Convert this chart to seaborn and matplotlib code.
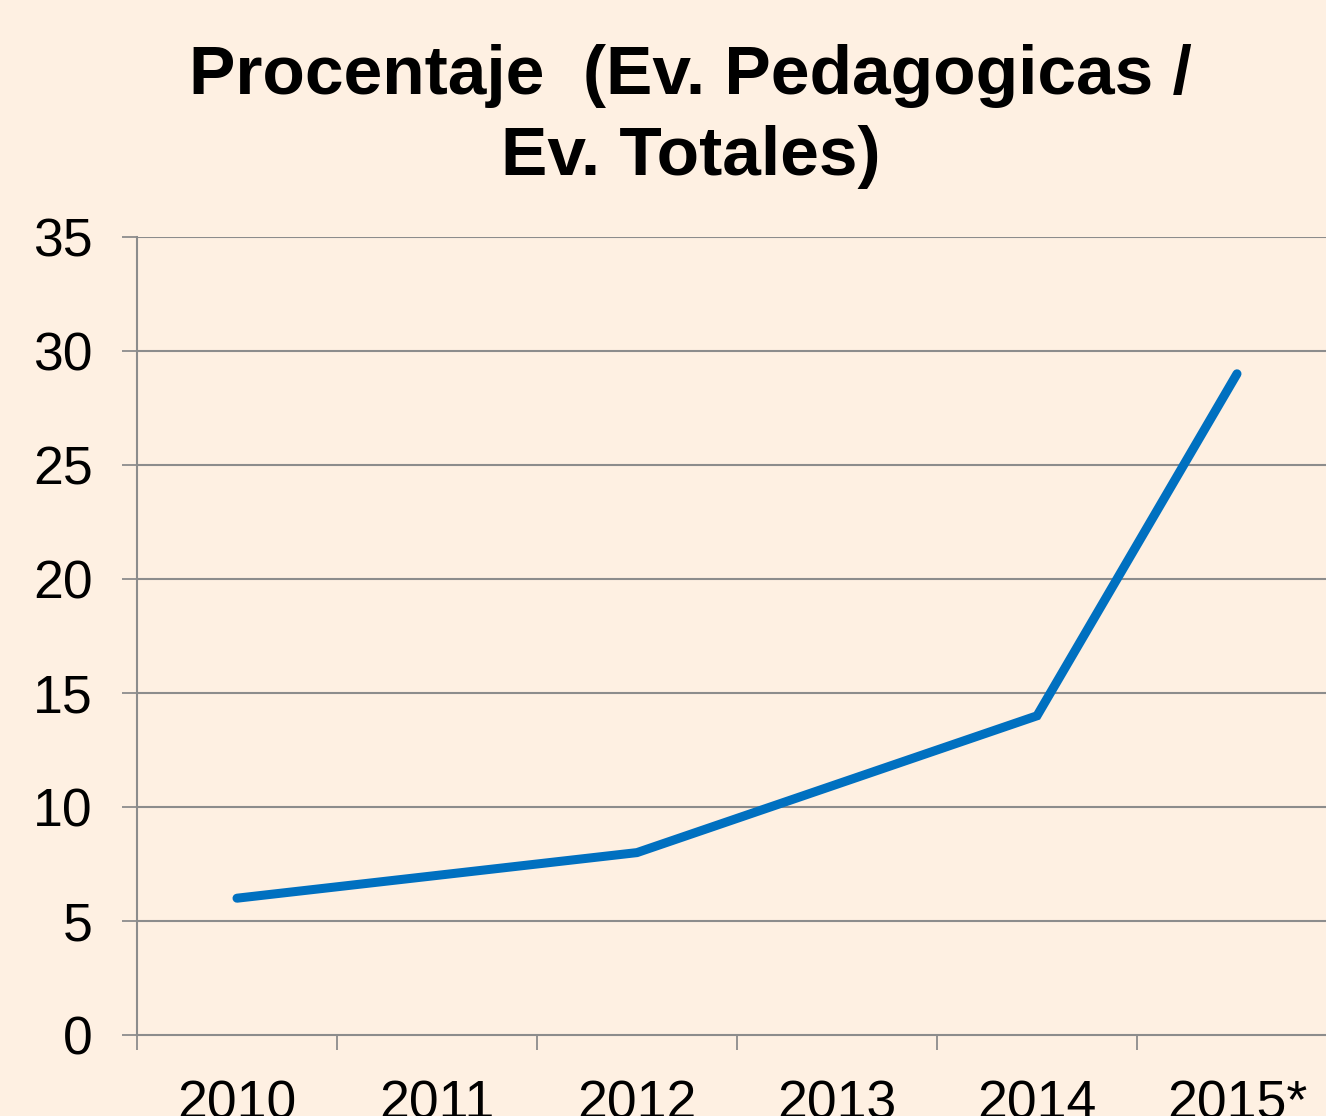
import matplotlib
matplotlib.use("Agg")
import matplotlib.pyplot as plt
import seaborn as sns
import pandas as pd
import numpy as np

# data
years = ['2010', '2011', '2012', '2013', '2014', '2015*']
porcentaje = [6, 7, 8, 11, 14, 29]
y_ticks = [0, 5, 10, 15, 20, 25, 30, 35]

bg = '#FEF0E2'
grid_c = '#8C8C8C'

sns.set_theme(style='white')
plt.rcParams['font.family'] = ['Liberation Sans', 'DejaVu Sans']

df = pd.DataFrame({'year': years, 'pct': porcentaje})

fig = plt.figure(figsize=(13.26, 11.16), dpi=100, facecolor=bg)
ax = fig.add_axes([137 / 1326, 81 / 1116, 1200 / 1326, 798 / 1116])
ax.set_facecolor(bg)

sns.lineplot(data=df, x='year', y='pct', sort=False, color='#0070C0',
             linewidth=6.5, solid_capstyle='round', solid_joinstyle='miter', ax=ax, zorder=3)

ax.set_xlim(-0.5, 5.5)
ax.set_ylim(0, 35)
ax.set_yticks(y_ticks)
ax.set_xticks(range(len(years)))
ax.set_xticklabels(years)
ax.set_xticks(np.arange(-0.5, len(years), 1.0), minor=True)

# horizontal gridlines
for v in y_ticks[1:]:
    ax.axhline(v, color=grid_c, linewidth=1.5, zorder=1)

for s in ['top', 'right']:
    ax.spines[s].set_visible(False)
for s in ['left', 'bottom']:
    ax.spines[s].set_color(grid_c)
    ax.spines[s].set_linewidth(1.5)

ax.tick_params(axis='y', which='major', direction='out', length=10.8, width=1.3,
               color=grid_c, labelsize=38.5, pad=21, left=True)
ax.tick_params(axis='x', which='major', length=0, labelsize=38.5, pad=32)
ax.tick_params(axis='x', which='minor', direction='out', length=10.8, width=1.3,
               color=grid_c, bottom=True)
for lab in ax.get_xticklabels() + ax.get_yticklabels():
    lab.set_color('black')

ax.set_xlabel('')
ax.set_ylabel('')

fig.text(0.521, 0.9315, 'Procentaje  (Ev. Pedagogicas /', ha='center', va='center',
         fontsize=50, fontweight='bold', color='black')
fig.text(0.521, 0.8595, 'Ev. Totales)', ha='center', va='center',
         fontsize=50, fontweight='bold', color='black')

fig.savefig('out.png', dpi=100, facecolor=bg)
